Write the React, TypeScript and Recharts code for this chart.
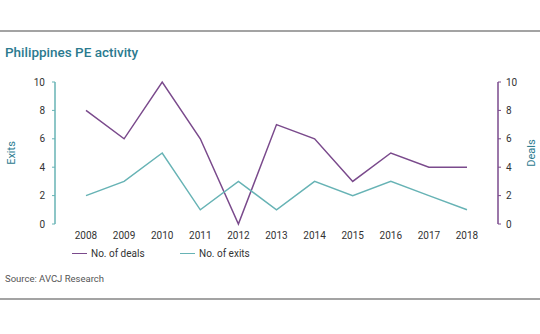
import { LineChart, Line, XAxis, YAxis } from 'recharts'

const years = ['2008', '2009', '2010', '2011', '2012', '2013', '2014', '2015', '2016', '2017', '2018']
const deals = [8, 6, 10, 6, 0, 7, 6, 3, 5, 4, 4]
const exits = [2, 3, 5, 1, 3, 1, 3, 2, 3, 2, 1]
const yTicks = [0, 2, 4, 6, 8, 10]
const seriesNames = ['No. of deals', 'No. of exits']

const PURPLE = '#7a4a8c'
const TEAL = '#67b3b5'
const TEAL_DARK = '#2b7a8f'
const FONT = 'Roboto, "DejaVu Sans", sans-serif'

const data = years.map((year, i) => ({ year, deals: deals[i], exits: exits[i] }))

const axisTitle = (text: string, left: number) => (
  <div
    style={{
      position: 'absolute',
      left,
      top: 153,
      transform: 'translate(-50%, -50%) rotate(-90deg)',
      fontSize: 11,
      color: TEAL_DARK,
      whiteSpace: 'nowrap',
    }}
  >
    {text}
  </div>
)

export default function App() {
  return (
    <div style={{ position: 'absolute', left: 0, top: 0, width: 540, height: 334, background: '#fff', fontFamily: FONT }}>
      <div style={{ position: 'absolute', left: 0, top: 30, width: 540, height: 2, background: '#a3a3a3' }} />
      <div style={{ position: 'absolute', left: 5, top: 44, fontSize: 13.5, fontWeight: 500, color: TEAL_DARK }}>
        Philippines PE activity
      </div>
      <LineChart
        width={540}
        height={334}
        data={data}
        margin={{ top: 82, right: 0, left: 0, bottom: 90 }}
        style={{ position: 'absolute', left: 0, top: 0 }}
      >
        <XAxis
          dataKey="year"
          axisLine={false}
          tickLine={false}
          padding={{ left: 31, right: 31 }}
          height={20}
          interval={0}
          tick={{ fontSize: 10, fill: '#333', fontFamily: FONT }}
        />
        <YAxis
          yAxisId="left"
          orientation="left"
          width={55}
          domain={[0, 10]}
          ticks={yTicks}
          axisLine={{ stroke: TEAL, strokeWidth: 1.5 }}
          tickLine={{ stroke: TEAL }}
          tickSize={3}
          tickMargin={7}
          tick={{ fontSize: 10, fill: '#333', fontFamily: FONT }}
        />
        <YAxis
          yAxisId="right"
          orientation="right"
          width={42}
          domain={[0, 10]}
          ticks={yTicks}
          axisLine={{ stroke: PURPLE, strokeWidth: 1.5 }}
          tickLine={{ stroke: PURPLE }}
          tickSize={3}
          tickMargin={5}
          tick={{ fontSize: 10, fill: '#333', fontFamily: FONT }}
        />
        <Line
          yAxisId="right"
          dataKey="deals"
          name={seriesNames[0]}
          stroke={PURPLE}
          strokeWidth={1.5}
          dot={false}
          isAnimationActive={false}
        />
        <Line
          yAxisId="left"
          dataKey="exits"
          name={seriesNames[1]}
          stroke={TEAL}
          strokeWidth={1.5}
          dot={false}
          isAnimationActive={false}
        />
      </LineChart>
      {axisTitle('Exits', 11)}
      {axisTitle('Deals', 531)}
      <div style={{ position: 'absolute', left: 72, top: 248, display: 'flex', fontSize: 10, color: '#333' }}>
        {seriesNames.map((name, i) => (
          <div key={name} style={{ display: 'flex', alignItems: 'center', width: 108 }}>
            <span
              style={{ display: 'inline-block', width: 15, height: 1.5, background: i === 0 ? PURPLE : TEAL, marginRight: 4 }}
            />
            {name}
          </div>
        ))}
      </div>
      <div style={{ position: 'absolute', left: 5, top: 273, fontSize: 9.5, color: '#555' }}>Source: AVCJ Research</div>
      <div style={{ position: 'absolute', left: 0, top: 298, width: 540, height: 2, background: '#a3a3a3' }} />
    </div>
  )
}
